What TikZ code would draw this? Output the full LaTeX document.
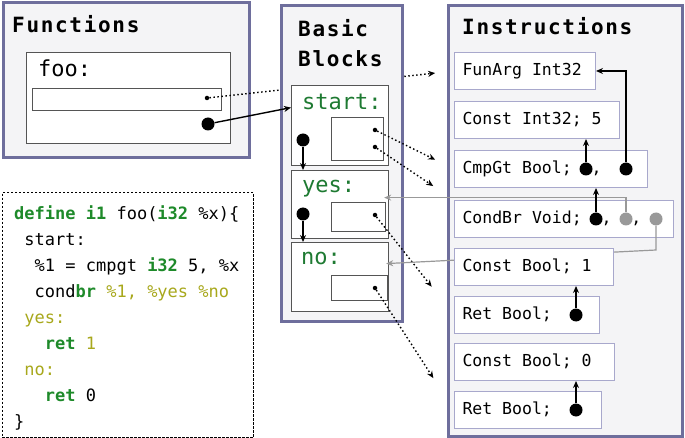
\documentclass[tikz,border=0pt]{standalone}
\usepackage{fontspec}
\setmainfont{DejaVu Sans Mono}
\newfontfamily\titlefont{DejaVu Sans Mono}[LetterSpace=8]
\usetikzlibrary{arrows.meta}
\definecolor{panelline}{HTML}{6E6E9C}
\definecolor{panelfill}{HTML}{F4F4F6}
\definecolor{blkline}{HTML}{555555}
\definecolor{instrline}{HTML}{A8A8CC}
\definecolor{wiregray}{HTML}{999999}
\definecolor{lblgreen}{HTML}{1E7A32}
\definecolor{kwgreen}{HTML}{1E8A2A}
\definecolor{lblolive}{HTML}{A8A81C}
\newcommand{\kwtxt}[1]{\textcolor{kwgreen}{\bfseries #1}}
\newcommand{\lbltxt}[1]{\textcolor{lblolive}{#1}}
\pgfdeclarelayer{mid}
\pgfdeclarelayer{front}
\pgfsetlayers{main,mid,front}
\begin{document}
\begin{tikzpicture}[x=1pt, y=-1pt,
  panel/.style={draw=panelline, fill=panelfill, line width=3pt, anchor=north west, inner sep=0pt},
  blk/.style={draw=blkline, fill=white, line width=1.2pt, anchor=north west, inner sep=0pt},
  instr/.style={draw=instrline, fill=white, line width=1pt, anchor=north west, minimum height=37pt,
    inner xsep=8pt, inner ysep=0pt, align=left, text height=12pt, text depth=3.5pt,
    font=\fontsize{16.5}{20}\selectfont,
    execute at begin node={\spaceskip=0.602em\relax\xspaceskip=0.602em\relax}},
  title/.style={anchor=base west, inner sep=0pt, font=\titlefont\bfseries\fontsize{21}{30}\selectfont},
  blabel/.style={anchor=base west, inner sep=0pt, font=\fontsize{22}{26}\selectfont},
  bigdot/.style={circle, fill=black, inner sep=0pt, minimum size=13pt},
  grdot/.style={bigdot, fill=wiregray},
  smdot/.style={circle, fill=black, inner sep=0pt, minimum size=4.5pt},
  ptr/.style={-{Stealth[length=7pt, width=6pt]}, line width=1.4pt},
  dotptr/.style={ptr, dash pattern=on 1.5pt off 2.5pt},
  wire/.style={ptr, draw=wiregray, line width=1.2pt}]
\useasboundingbox (0,0) rectangle (685,438);

\begin{pgfonlayer}{front}
  \node[instr, text width=125pt] (funarg) at (454,52) {FunArg Int32};
  \node[instr, text width=149pt] (cint) at (454,101) {Const Int32; 5};
  \node[instr, text width=177pt] (cmpgt) at (454,150) {CmpGt Bool;~\phantom{0},~~\phantom{0}};
  \node[instr, text width=143pt] (cbtrue) at (454,248) {Const Bool; 1};
  \node[instr, text width=129pt] (rettrue) at (454,296) {Ret Bool;~~\phantom{0}};
  \node[instr, text width=144pt] (cbfalse) at (454,343) {Const Bool; 0};
  \node[instr, text width=131pt] (retfalse) at (454,391) {Ret Bool;~~\phantom{0}};
  \node[bigdot] (cmpa) at ([xshift=132pt]cmpgt.west) {};
  \node[bigdot] (cmpb) at ([xshift=172pt]cmpgt.west) {};
  \node[bigdot] (rettruedot) at ([xshift=122pt]rettrue.west) {};
  \node[bigdot] (retfalsedot) at ([xshift=122pt]retfalse.west) {};
\end{pgfonlayer}
\begin{pgfonlayer}{mid}
  \node[instr, text width=203pt] (condbr) at (454,200) {CondBr Void;~\phantom{0},~\phantom{0},~\phantom{0}};
  \node[bigdot] (bra) at ([xshift=142pt]condbr.west) {};
  \node[grdot] (brb) at ([xshift=172pt]condbr.west) {};
  \node[grdot] (brc) at ([xshift=202pt]condbr.west) {};
\end{pgfonlayer}
\begin{pgfonlayer}{front}
  \draw[ptr] (cmpa) -- (cmpa |- cint.south);
  \draw[ptr] (cmpb) |- (funarg.east);
  \draw[ptr] (bra) -- (bra |- cmpgt.south);
  \draw[ptr] (rettruedot) -- (rettruedot |- cbtrue.south);
  \draw[ptr] (retfalsedot) -- (retfalsedot |- cbfalse.south);
\end{pgfonlayer}

\node[panel, minimum width=246.5pt, minimum height=154.5pt] (fnpanel) at (1.5,1.5) {};
\node[title] (fntitle) at (12,33) {Functions};
\node[blk, minimum width=204pt, minimum height=91pt] (foo) at (26,52) {};
\node[blabel] (foolbl) at (38,77) {foo:};
\node[blk, minimum width=189pt, minimum height=22pt] (args) at (32,88) {};
\node[smdot] (argsdot) at (207,98) {};
\node[bigdot] (foodot) at (208,124) {};
\draw[dotptr, shorten >=19pt] (argsdot) -- (funarg.west);

\node[panel, minimum width=121.5pt, minimum height=316pt] (bbpanel) at (279.5,4) {};
\node[title, align=left, anchor=north west] (bbtitle) at (298,19) {Basic\\Blocks};
\node[blk, minimum width=97pt, minimum height=80pt] (start) at (291,85) {};
\node[blabel, text=lblgreen] (startlbl) at (302,110) {start:};
\node[blk, minimum width=52pt, minimum height=43pt] (startbody) at (331,117) {};
\node[smdot] (starta) at (375,130) {};
\node[smdot] (startb) at (375,147) {};
\node[bigdot] (startdot) at (303,140) {};
\node[blk, minimum width=97pt, minimum height=68pt] (yes) at (291,170) {};
\node[blabel, text=lblgreen] (yeslbl) at (302,193) {yes:};
\node[blk, minimum width=54pt, minimum height=29pt] (yesbody) at (331,202) {};
\node[smdot] (yesa) at (375,215) {};
\node[bigdot] (yesdot) at (303,214) {};
\node[blk, minimum width=97pt, minimum height=69pt] (no) at (291,242) {};
\node[blabel, text=lblgreen] (nolbl) at (301,265) {no:};
\node[blk, minimum width=56pt, minimum height=25pt] (nobody) at (331,275) {};
\node[smdot] (noa) at (375,288) {};

\draw[ptr] (foodot) -- ([yshift=18pt]start.west);
\draw[ptr] (startdot) -- (startdot |- yes.north);
\draw[ptr] (yesdot) -- (yesdot |- no.north);
\draw[dotptr, shorten >=21pt] (starta) -- (cmpgt.west);
\draw[dotptr, shorten >=25pt] (startb) -- (condbr.north west);
\draw[dotptr, shorten >=36pt] (yesa) -- (rettrue.west);
\draw[dotptr, shorten >=38pt] (noa) -- (retfalse.west);

\node[panel, minimum width=234.5pt, minimum height=431pt] (inpanel) at (446.5,4) {};
\node[title] (intitle) at (462,35) {Instructions};

\begin{pgfonlayer}{mid}
  \draw[wire] (brb) |- ([xshift=-5pt, yshift=7pt]yes.east);
  \draw[wire] (brc) -- ++(0,31) -- ([xshift=-3pt, yshift=13.5pt]no.east);
\end{pgfonlayer}

\node[draw, line width=1.2pt, dash pattern=on 2.5pt off 1.5pt, fill=white, anchor=north west,
  inner sep=0pt, minimum width=251pt, minimum height=245pt] (codeframe) at (1.5,192) {};
\node[anchor=north west, inner sep=0pt, align=left, font=\fontsize{17}{26}\selectfont] (code) at (14,205)
  {\kwtxt{define} \kwtxt{i1} foo(\kwtxt{i32} \%x)\{\\
   ~start:\\
   ~~\%1 = cmpgt \kwtxt{i32} 5, \%x\\
   ~~cond\kwtxt{br} \lbltxt{\%1, \%yes \%no}\\
   ~\lbltxt{yes:}\\
   ~~~\kwtxt{ret} \lbltxt{1}\\
   ~\lbltxt{no:}\\
   ~~~\kwtxt{ret} 0\\
   \}};
\end{tikzpicture}
\end{document}
